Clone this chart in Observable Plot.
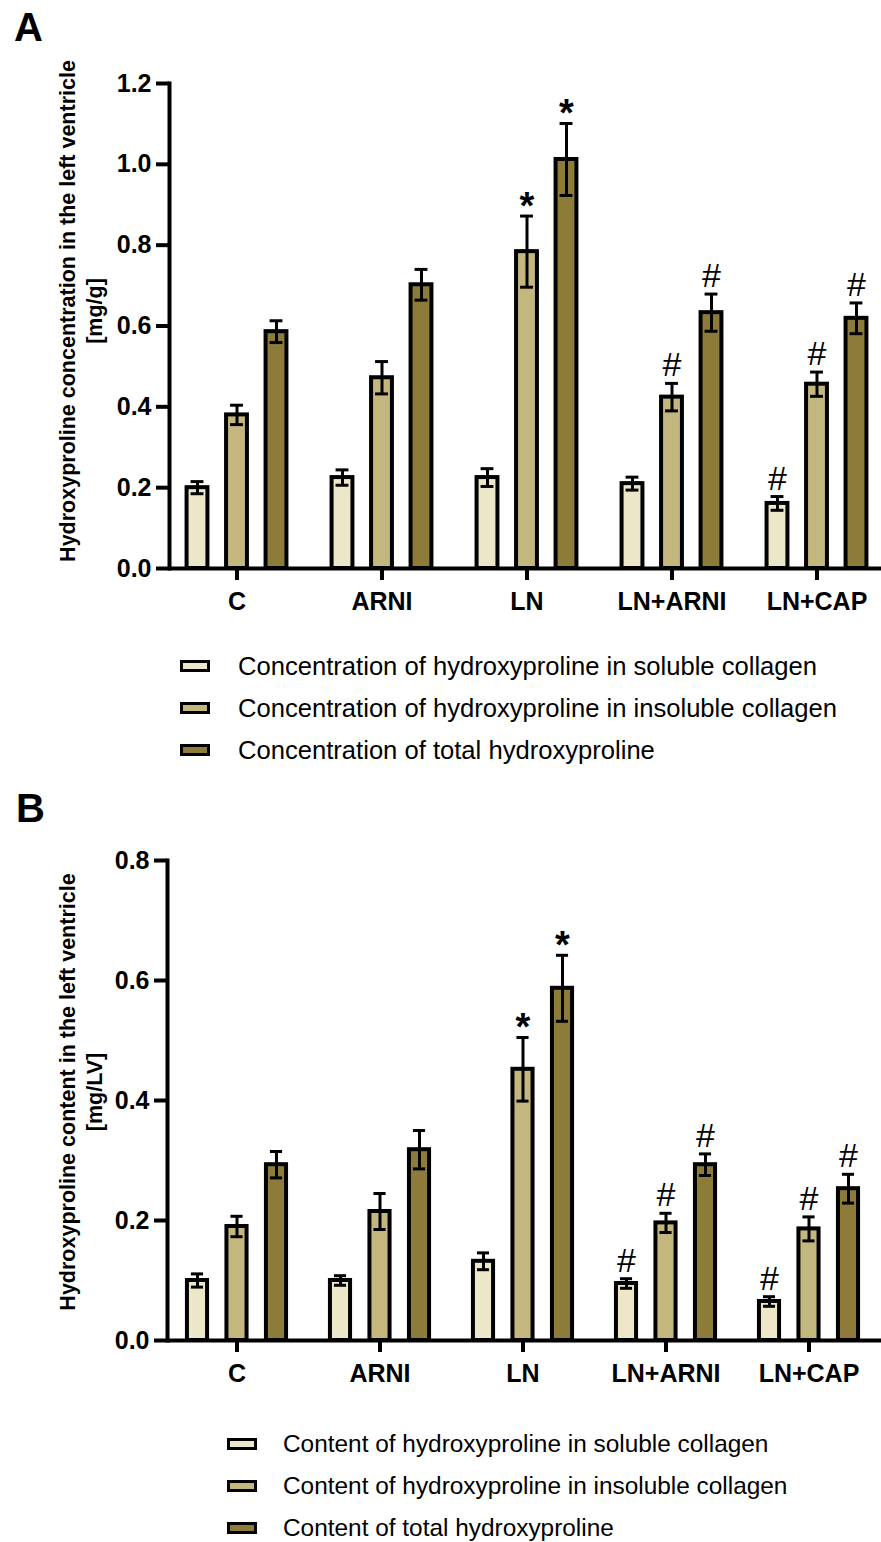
<!DOCTYPE html>
<html>
<head>
<meta charset="utf-8">
<script src="https://cdn.jsdelivr.net/npm/d3@7"></script>
<script src="https://cdn.jsdelivr.net/npm/@observablehq/plot@0.6"></script>
<style>
  html, body { margin: 0; padding: 0; background: #fff; overflow: hidden; }
  #root { position: relative; width: 881px; height: 1542px; background: #fff; font-family: "Liberation Sans", Arial, sans-serif; color: #000; }
  .abs { position: absolute; }
  .letter { font-size: 40px; font-weight: bold; line-height: 40px; }
  .ytitle { font-size: 21.5px; font-weight: bold; line-height: 27px; text-align: center; white-space: nowrap; transform: rotate(-90deg); transform-origin: 50% 50%; }
  .legrow { display: flex; align-items: center; height: 30px; white-space: nowrap; }
  .swatch { box-sizing: border-box; width: 30px; height: 12px; border: 3px solid #000; }
</style>
</head>
<body>
<div id="root"></div>
<script>
// ---------- data ----------
const groups = ["C", "ARNI", "LN", "LN+ARNI", "LN+CAP"];
const seriesColors = ["#ede7ca", "#c3b77e", "#8c7b39"];

// Panel A: concentration [mg/g]
const concLabels = [
  "Concentration of hydroxyproline in soluble collagen",
  "Concentration of hydroxyproline in insoluble collagen",
  "Concentration of total hydroxyproline"
];
const concSoluble        = [0.200, 0.225, 0.225, 0.210, 0.161];
const concSolubleSem     = [0.015, 0.019, 0.022, 0.016, 0.017];
const concSolubleSig     = ["", "", "", "", "#"];
const concInsoluble      = [0.380, 0.472, 0.784, 0.424, 0.456];
const concInsolubleSem   = [0.024, 0.040, 0.088, 0.034, 0.030];
const concInsolubleSig   = ["", "", "*", "#", "#"];
const concTotal          = [0.586, 0.702, 1.012, 0.633, 0.619];
const concTotalSem       = [0.027, 0.038, 0.089, 0.046, 0.038];
const concTotalSig       = ["", "", "*", "#", "#"];
const concTicks          = [0, 0.2, 0.4, 0.6, 0.8, 1.0, 1.2];

// Panel B: content [mg/LV]
const contLabels = [
  "Content of hydroxyproline in soluble collagen",
  "Content of hydroxyproline in insoluble collagen",
  "Content of total hydroxyproline"
];
const contSoluble        = [0.100, 0.100, 0.132, 0.095, 0.065];
const contSolubleSem     = [0.011, 0.008, 0.014, 0.008, 0.008];
const contSolubleSig     = ["", "", "", "#", "#"];
const contInsoluble      = [0.190, 0.215, 0.452, 0.196, 0.186];
const contInsolubleSem   = [0.017, 0.030, 0.053, 0.016, 0.020];
const contInsolubleSig   = ["", "", "*", "#", "#"];
const contTotal          = [0.293, 0.318, 0.587, 0.293, 0.253];
const contTotalSem       = [0.022, 0.032, 0.055, 0.018, 0.024];
const contTotalSig       = ["", "", "*", "#", "#"];
const contTicks          = [0, 0.2, 0.4, 0.6, 0.8];

// ---------- helpers ----------
const FONT = "Liberation Sans, Arial, sans-serif";
function rowsOf(values, sems, sigs) {
  return groups.map((g, i) => ({group: g, value: values[i], sem: sems[i], sig: sigs[i]}));
}

function drawPanel(cfg) {
  const {series, yMax, yTicks, height, marginTop, marginBottom, marginLeft, xRange} = cfg;
  const step = (xRange[1] - xRange[0]) / groups.length;
  const barW = 21, capW = 13;
  const offsets = [-39.5, 0, 39.5];
  const barInset = (step - barW) / 2, capInset = (step - capW) / 2;
  const marks = [];
  series.forEach((rows, s) => {
    marks.push(Plot.barY(rows, {
      x: "group", y: "value", dx: offsets[s],
      fill: seriesColors[s], stroke: "#000", strokeWidth: 4,
      insetLeft: barInset, insetRight: barInset
    }));
  });
  series.forEach((rows, s) => {
    const dx = offsets[s];
    marks.push(Plot.ruleX(rows, {x: "group", y1: d => d.value - d.sem, y2: d => d.value + d.sem, dx, stroke: "#000", strokeWidth: 3}));
    marks.push(Plot.tickY(rows, {x: "group", y: d => d.value + d.sem, dx, stroke: "#000", strokeWidth: 3, insetLeft: capInset, insetRight: capInset}));
    marks.push(Plot.tickY(rows, {x: "group", y: d => d.value - d.sem, dx, stroke: "#000", strokeWidth: 3, insetLeft: capInset, insetRight: capInset}));
    marks.push(Plot.text(rows.filter(d => d.sig === "#"), {
      x: "group", y: d => d.value + d.sem, text: "sig", dx, dy: -7,
      lineAnchor: "bottom", fontSize: 34, fontWeight: "normal", fontFamily: FONT, fill: "#000"
    }));
    marks.push(Plot.text(rows.filter(d => d.sig === "*"), {
      x: "group", y: d => d.value + d.sem, text: "sig", dx, dy: 2.5,
      lineAnchor: "bottom", fontSize: 38, fontWeight: "bold", fontFamily: FONT, fill: "#000"
    }));
  });
  marks.push(Plot.frame({anchor: "left", stroke: "#000", strokeWidth: 4}));
  marks.push(Plot.ruleY([0], {stroke: "#000", strokeWidth: 4}));
  marks.push(Plot.axisY({
    ticks: yTicks, tickFormat: d3.format(".1f"), tickSize: 13, tickPadding: 5,
    stroke: "#000", strokeWidth: 4, label: null,
    fontSize: 25, fontWeight: "bold", fontFamily: FONT, fill: "#000"
  }));
  marks.push(Plot.axisX({
    tickSize: 12, tickPadding: 12, stroke: "#000", strokeWidth: 4, label: null,
    fontSize: 25, fontWeight: "bold", fontFamily: FONT, fill: "#000"
  }));
  return Plot.plot({
    width: 881, height, marginTop, marginBottom, marginLeft, marginRight: 0,
    style: {fontFamily: FONT, fontSize: "25px", fontWeight: "bold", color: "#000", background: "transparent", overflow: "visible"},
    x: {type: "band", domain: groups, range: xRange, padding: 0},
    y: {domain: [0, yMax]},
    marks
  });
}

function addDiv(parent, cls, css, html) {
  const d = document.createElement("div");
  d.className = cls;
  Object.assign(d.style, css);
  d.innerHTML = html;
  parent.appendChild(d);
  return d;
}

function addLegend(parent, labels, swLeft, textLeft, centers, fontSize) {
  labels.forEach((lab, i) => {
    const row = addDiv(parent, "abs legrow", {left: swLeft + "px", top: (centers[i] - 15) + "px"}, "");
    const sw = document.createElement("div");
    sw.className = "swatch";
    sw.style.background = seriesColors[i];
    row.appendChild(sw);
    const t = document.createElement("span");
    t.style.fontSize = fontSize + "px";
    t.style.marginLeft = (textLeft - swLeft - 30) + "px";
    t.textContent = lab;
    row.appendChild(t);
  });
}

function addYTitle(parent, lines, cx, cy) {
  const w = 620;
  addDiv(parent, "abs ytitle", {left: (cx - w / 2) + "px", top: (cy - 27) + "px", width: w + "px", height: "54px"},
    lines.map(l => `<div>${l}</div>`).join(""));
}

// ---------- build ----------
const root = document.getElementById("root");

// Panel A
const svgA = drawPanel({
  series: [
    rowsOf(concSoluble, concSolubleSem, concSolubleSig),
    rowsOf(concInsoluble, concInsolubleSem, concInsolubleSig),
    rowsOf(concTotal, concTotalSem, concTotalSig)
  ],
  yMax: 1.2, yTicks: concTicks, height: 630, marginTop: 83, marginBottom: 62, marginLeft: 169,
  xRange: [163.9, 889.6]
});
svgA.style.position = "absolute"; svgA.style.left = "0px"; svgA.style.top = "0px";
root.appendChild(svgA);

// Panel B
const svgB = drawPanel({
  series: [
    rowsOf(contSoluble, contSolubleSem, contSolubleSig),
    rowsOf(contInsoluble, contInsolubleSem, contInsolubleSig),
    rowsOf(contTotal, contTotalSem, contTotalSig)
  ],
  yMax: 0.8, yTicks: contTicks, height: 630, marginTop: 80, marginBottom: 70, marginLeft: 167,
  xRange: [162.6, 882.0]
});
svgB.style.position = "absolute"; svgB.style.left = "0px"; svgB.style.top = "780px";
root.appendChild(svgB);

// Panel letters
addDiv(root, "abs letter", {left: "14px", top: "7px"}, "A");
addDiv(root, "abs letter", {left: "16px", top: "788px"}, "B");

// Y titles
addYTitle(root, ["Hydroxyproline concentration in the left ventricle", "[mg/g]"], 81.5, 311);
addYTitle(root, ["Hydroxyproline content in the left ventricle", "[mg/LV]"], 81.5, 1092);

// Legends
addLegend(root, concLabels, 180, 238, [666, 708, 750], 25.6);
addLegend(root, contLabels, 227, 283, [1444, 1486, 1528], 24.4);
</script>
</body>
</html>
